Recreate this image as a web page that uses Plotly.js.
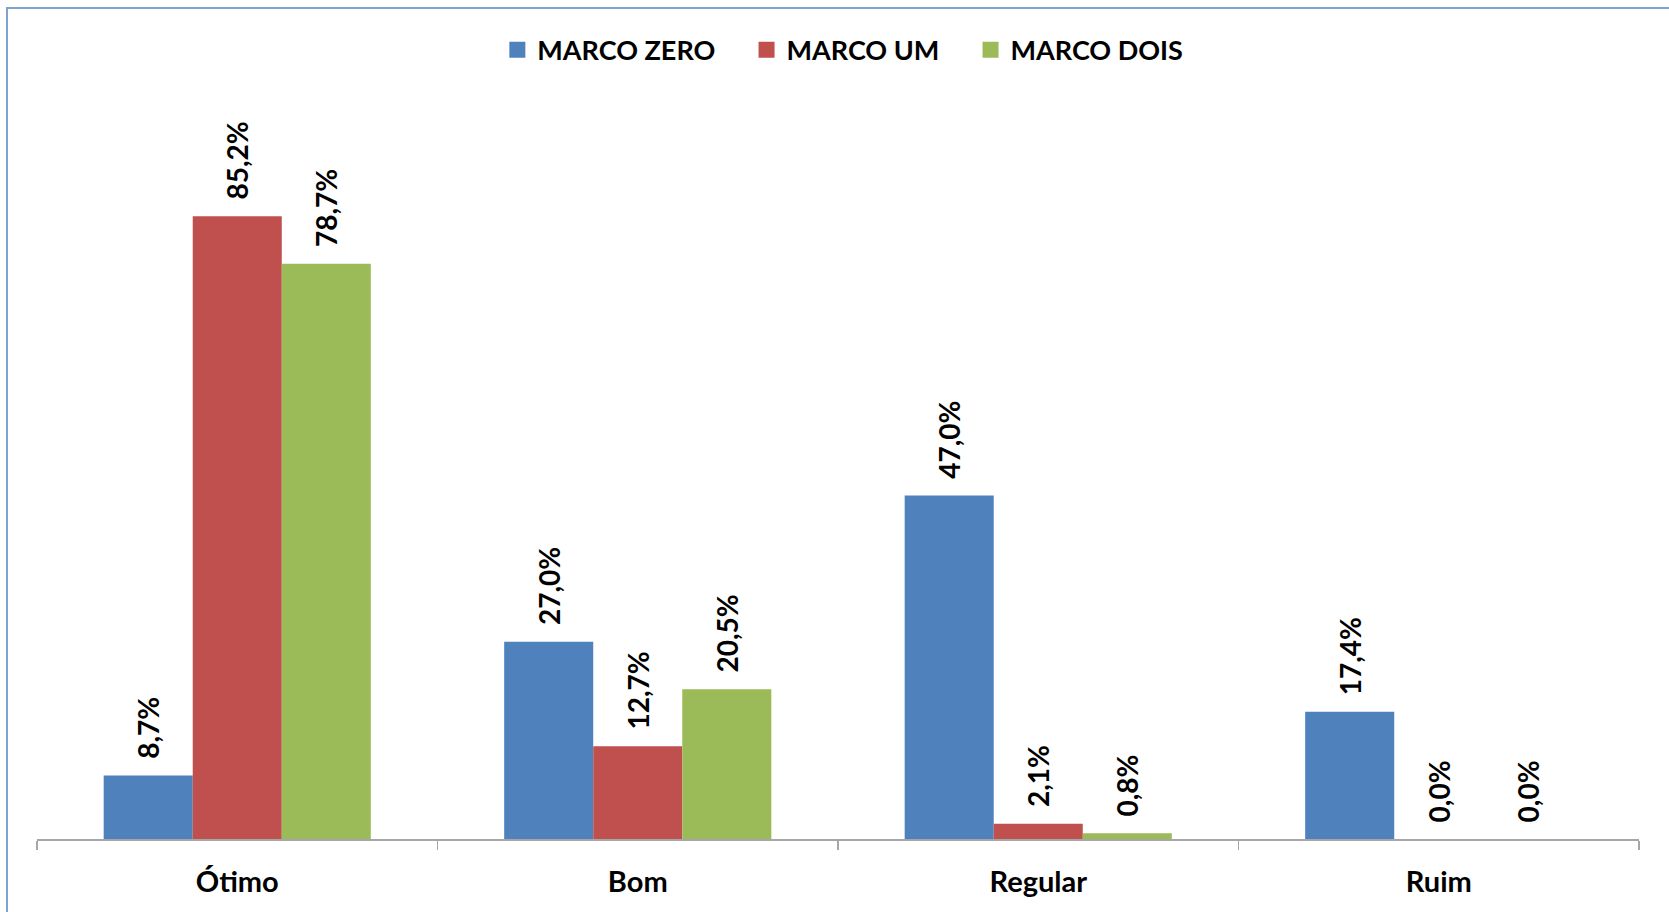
<!DOCTYPE html>
<html>
<head>
<meta charset="utf-8">
<script src="https://cdn.plot.ly/plotly-3.0.1.min.js"></script>
<style>
html,body{margin:0;padding:0;background:#fff;}
#wrap{position:relative;width:1669px;height:912px;overflow:hidden;}
#frame{position:absolute;left:6px;top:7px;width:1700px;height:1000px;border-left:2px solid #7FA3D0;border-top:2px solid #7FA3D0;pointer-events:none;z-index:5;}
#chart{position:absolute;left:0;top:0;width:1669px;height:912px;}
</style>
</head>
<body>
<div id="wrap"><div id="chart"></div><div id="frame"></div></div>
<script>
const categories = ['Ótimo', 'Bom', 'Regular', 'Ruim'];
const seriesNames = ['MARCO ZERO', 'MARCO UM', 'MARCO DOIS'];
const marcoZero = [8.7, 27.0, 47.0, 17.4];
const marcoUm = [85.2, 12.7, 2.1, 0.0];
const marcoDois = [78.7, 20.5, 0.8, 0.0];
const colors = ['#4F81BD', '#C0504D', '#9BBB59'];

const FONT = 'Lato, "Open Sans", sans-serif';
const fmt = v => '\u00A0\u00A0' + v.toFixed(1).replace('.', ',') + '%';

const barTraces = [marcoZero, marcoUm, marcoDois].map((vals, i) => ({
  type: 'bar',
  name: seriesNames[i],
  legendgroup: 's' + i,
  showlegend: false,
  x: categories,
  y: vals,
  marker: {color: colors[i], line: {width: 0}},
  text: vals.map(fmt),
  textposition: 'outside',
  textangle: -90,
  cliponaxis: false,
  constraintext: 'none',
  textfont: {family: FONT, size: 28, color: '#000', weight: 'bold'},
  hoverinfo: 'none'
}));

// legend-only entries with larger square swatches
const legendTraces = seriesNames.map((n, i) => ({
  type: 'scatter',
  mode: 'markers',
  name: n + (i < seriesNames.length - 1 ? '\u00A0\u00A0\u00A0\u00A0' : ''),
  legendgroup: 's' + i,
  x: [null],
  y: [null],
  marker: {symbol: 'square', size: 16, color: colors[i]},
  hoverinfo: 'none'
}));

const layout = {
  width: 1669,
  height: 912,
  margin: {l: 37, r: 30, t: 108, b: 73},
  paper_bgcolor: '#ffffff',
  plot_bgcolor: '#ffffff',
  barmode: 'group',
  bargap: 0.333,
  bargroupgap: 0,
  showlegend: true,
  legend: {
    orientation: 'h',
    x: 0.505, xref: 'container', xanchor: 'center',
    y: 0.945, yref: 'container', yanchor: 'middle',
    font: {family: FONT, size: 27, color: '#000', weight: 'bold'},
    itemwidth: 30,
    traceorder: 'normal'
  },
  xaxis: {
    showline: true,
    linecolor: '#A6A6A6',
    linewidth: 1.5,
    ticks: 'outside',
    tickson: 'boundaries',
    ticklen: 9,
    tickcolor: '#A6A6A6',
    tickwidth: 1.5,
    ticklabelstandoff: 17,
    tickfont: {family: FONT, size: 29, color: '#000', weight: 'bold'},
    showgrid: false,
    zeroline: false
  },
  yaxis: {
    range: [0, 100],
    visible: false,
    showgrid: false,
    zeroline: false
  }
};

Plotly.newPlot('chart', barTraces.concat(legendTraces), layout, {displayModeBar: false, staticPlot: true});
</script>
</body>
</html>
